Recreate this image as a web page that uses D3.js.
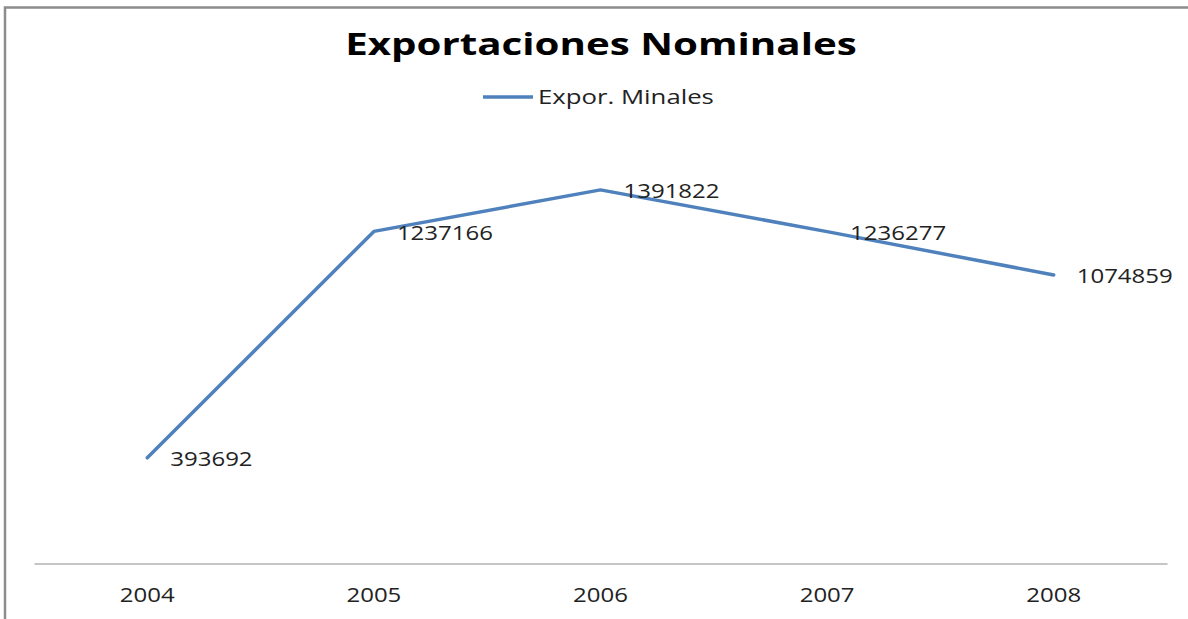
<!DOCTYPE html>
<html>
<head>
<meta charset="utf-8">
<script src="https://cdn.jsdelivr.net/npm/d3@7"></script>
<style>
  html, body { margin: 0; padding: 0; background: #fff; }
  svg { display: block; }
</style>
</head>
<body>
<script>
// Exportaciones nominales, 2004-2008
const years = ["2004", "2005", "2006", "2007", "2008"];
const exportValues = [393692, 1237166, 1391822, 1236277, 1074859];
const seriesName = "Expor. Minales";
const chartTitle = "Exportaciones Nominales";

const W = 1188, H = 619;
const font = "'Open Sans', 'DejaVu Sans', sans-serif";
const lineColor = "#4f81bd";
const textColor = "#222";
const stretch = 1.2;   // wide letterforms

const svg = d3.select("body").append("svg")
  .attr("width", W).attr("height", H);

// Chart frame (top and left edges visible)
svg.append("path")
  .attr("d", "M5,619 V7.5 H1188")
  .attr("fill", "none")
  .attr("stroke", "#8c8c8c")
  .attr("stroke-width", 2.5);

const x = d3.scaleBand().domain(years).range([34, 1167]);
const y = d3.scaleLinear().domain([0, 1600000]).range([563.5, 134]);

// Category axis
const xAxis = svg.append("g")
  .attr("transform", "translate(0,563.5)")
  .call(d3.axisBottom(x).tickSize(0).tickPadding(0));
xAxis.select(".domain").attr("stroke", "#8c8c8c").attr("stroke-width", 1.2);
xAxis.selectAll(".tick text")
  .attr("dy", null)
  .attr("y", 0)
  .attr("transform", `translate(0,38) scale(${stretch},1)`)
  .attr("font-family", font).attr("font-size", 20).attr("fill", textColor);

const cx = d => x(d) + x.bandwidth() / 2;
const data = years.map((yr, i) => ({ yr, v: exportValues[i] }));

// Series line
svg.append("path")
  .datum(data)
  .attr("fill", "none")
  .attr("stroke", lineColor)
  .attr("stroke-width", 3.5)
  .attr("stroke-linejoin", "round")
  .attr("stroke-linecap", "round")
  .attr("d", d3.line().x(d => cx(d.yr)).y(d => y(d.v)));

// Value labels
svg.append("g").selectAll("text")
  .data(data).join("text")
  .attr("transform", d => `translate(${cx(d.yr) + 23},${y(d.v) + 8.5}) scale(${stretch},1)`)
  .attr("font-family", font).attr("font-size", 20).attr("fill", textColor)
  .text(d => d.v);

// Title
svg.append("text")
  .attr("transform", "translate(601,55) scale(1.3,1)")
  .attr("text-anchor", "middle")
  .attr("font-family", font).attr("font-weight", "bold")
  .attr("font-size", 31).attr("fill", "#000")
  .text(chartTitle);

// Legend
const lg = svg.append("g");
lg.append("line")
  .attr("x1", 483).attr("x2", 533).attr("y1", 97).attr("y2", 97)
  .attr("stroke", lineColor).attr("stroke-width", 3.5);
lg.append("text")
  .attr("transform", `translate(538,104) scale(1.32,1)`)
  .attr("font-family", font).attr("font-size", 19.5).attr("fill", textColor)
  .text(seriesName);
</script>
</body>
</html>
